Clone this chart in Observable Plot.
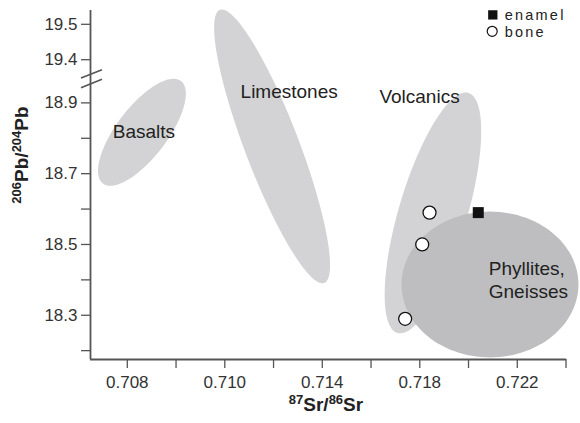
<!DOCTYPE html>
<html><head><meta charset="utf-8">
<script src="https://cdn.jsdelivr.net/npm/d3@7"></script>
<script src="https://cdn.jsdelivr.net/npm/@observablehq/plot@0.6"></script>
<style>body{margin:0;background:#fff}</style>
</head><body><div id="chart"></div>
<script>
// Source regions (ellipses): centre, end of major semi-axis, end of minor semi-axis (data units)
const regionNames  = ["Basalts", "Limestones", "Volcanics", "Phyllites,\nGneisses"];
const regionCx     = [0.70660, 0.71194, 0.71854, 0.72088];
const regionCy     = [18.817, 18.777, 18.589, 18.387];
const regionMajorX = [0.70820, 0.70980, 0.72000, 0.72451];
const regionMajorY = [18.962, 19.163, 18.928, 18.387];
const regionMinorX = [0.70743, 0.71298, 0.71988, 0.72088];
const regionMinorY = [18.774, 18.804, 18.561, 18.593];
const labelX       = [0.70668, 0.71264, 0.71799, 0.72083];
const labelY       = [18.819, 18.930, 18.916, 18.401];

// Samples
const boneX   = [0.7184, 0.7181, 0.7174];
const boneY   = [18.59, 18.50, 18.29];
const enamelX = [0.7204];
const enamelY = [18.59];
const legendLabels = ["enamel", "bone"];

// Axes
const yTickValues = [19.5, 19.4, 18.9, 18.7, 18.5, 18.3];
const yTickLabels = ["19.5", "19.4", "18.9", "18.7", "18.5", "18.3"];
const yMinorTicks = [18.8, 18.6, 18.4, 18.2];
const xTickValues = [0.706, 0.710, 0.714, 0.718, 0.722];
const xTickLabels = ["0.708", "0.710", "0.714", "0.718", "0.722"];
const xMinorTicks = [0.708, 0.712, 0.716, 0.720, 0.724];
const xDomain = [0.70449, 0.72402];
const yDomain = [18.175, 19.161];
const yBreakFrom = 19.2, yBreakShift = 0.378, yBreakAt = 18.967;

const brk = v => v >= yBreakFrom ? v - yBreakShift : v;
const yLabelMap = new Map(yTickValues.map((v, i) => [brk(v), yTickLabels[i]]));
const xLabelMap = new Map(xTickValues.map((v, i) => [v, xTickLabels[i]]));

const LIGHT = "#d3d3d5", DARK = "#bebec0", AXIS = "#555", INK = "#222";

function outline(i) {
  const cx = regionCx[i], cy = regionCy[i];
  const ux = regionMajorX[i] - cx, uy = regionMajorY[i] - cy;
  const vx = regionMinorX[i] - cx, vy = regionMinorY[i] - cy;
  const pts = [];
  for (let k = 0; k < 120; k++) {
    const t = 2 * Math.PI * k / 120;
    pts.push({x: cx + ux * Math.cos(t) + vx * Math.sin(t), y: cy + uy * Math.cos(t) + vy * Math.sin(t)});
  }
  return pts;
}

const ellipseMarks = regionNames.map((n, i) =>
  Plot.line(outline(i), {x: "x", y: "y", fill: i === 3 ? DARK : LIGHT, stroke: "none", curve: "linear-closed"}));

const labels = regionNames.map((n, i) => ({name: n, x: labelX[i], y: labelY[i], anchor: i === 3 ? "start" : "middle"}));

const breakMark = (index, scales) => {
  const g = d3.create("svg:g").attr("stroke", AXIS).attr("stroke-width", 1.6);
  const x0 = scales.x(xDomain[0]), y0 = scales.y(yBreakAt);
  for (const off of [-4.8, 4.8]) {
    g.append("line").attr("x1", x0 - 9).attr("y1", y0 + off + 4.2)
      .attr("x2", x0 + 12).attr("y2", y0 + off - 4.2);
  }
  return g.node();
};

const spaced = (index, scales, values, dims, ctx, next) => {
  const g = next(index, scales, values, dims, ctx);
  g.style.letterSpacing = "2.2px";
  return g;
};

const plot = Plot.plot({
  width: 580, height: 423,
  marginLeft: 90, marginRight: 14, marginTop: 10, marginBottom: 64,
  style: {fontFamily: "'Liberation Sans', Arial, sans-serif", color: "#333", background: "#fff"},
  x: {domain: xDomain, label: null},
  y: {domain: yDomain, label: null},
  marks: [
    ...ellipseMarks,
    Plot.ruleX([xDomain[0]], {stroke: AXIS, strokeWidth: 1.8}),
    Plot.ruleY([yDomain[0]], {stroke: AXIS, strokeWidth: 1.8}),
    Plot.axisY(yTickValues.map(brk), {anchor: "left", tickSize: 9, tickPadding: 4, fontSize: 17, stroke: AXIS, strokeWidth: 1.3, tickFormat: t => yLabelMap.get(t), label: null}),
    Plot.axisY(yMinorTicks, {anchor: "left", tickSize: 9, stroke: AXIS, strokeWidth: 1.3, tickFormat: () => "", label: null}),
    Plot.axisX(xTickValues, {anchor: "bottom", tickSize: 9, tickPadding: 7, fontSize: 17, stroke: AXIS, strokeWidth: 1.3, tickFormat: t => xLabelMap.get(t), label: null}),
    Plot.axisX(xMinorTicks, {anchor: "bottom", tickSize: 9, stroke: AXIS, strokeWidth: 1.3, tickFormat: () => "", label: null}),
    breakMark,
    Plot.text(labels.filter(d => d.anchor === "middle"), {x: "x", y: "y", text: "name", fontSize: 19, fill: INK, textAnchor: "middle"}),
    Plot.text(labels.filter(d => d.anchor === "start"), {x: "x", y: "y", text: "name", fontSize: 19, fill: INK, textAnchor: "start", lineHeight: 1.19}),
    Plot.dot(boneX.map((x, i) => ({x, y: brk(boneY[i])})), {x: "x", y: "y", symbol: "circle", r: 6.5, fill: "#fff", stroke: "#111", strokeWidth: 1.3}),
    Plot.dot(enamelX.map((x, i) => ({x, y: brk(enamelY[i])})), {x: "x", y: "y", symbol: "square", r: 6.2, fill: "#111", stroke: "none"}),
    // legend
    Plot.dot([legendLabels[0]], {frameAnchor: "top-right", dx: -73.7, dy: 4.4, symbol: "square", r: 5.25, fill: "#111"}),
    Plot.dot([legendLabels[1]], {frameAnchor: "top-right", dx: -74.3, dy: 20.8, symbol: "circle", r: 5, fill: "#fff", stroke: "#111", strokeWidth: 1.2}),
    Plot.text([legendLabels.join("\n")], {frameAnchor: "top-right", text: d => d, dx: -61.7, dy: -2.4, fontSize: 14.5, lineHeight: 16.8 / 14.5, fill: INK, textAnchor: "start", lineAnchor: "top", render: spaced})
  ]
});

const svg = d3.select(plot);
const xt = svg.append("text").attr("x", 326).attr("y", 411).attr("text-anchor", "middle")
  .attr("font-weight", "bold").attr("fill", INK).attr("font-size", 19);
xt.append("tspan").attr("font-size", 13).attr("dy", -7).text("87");
xt.append("tspan").attr("dy", 7).text("Sr/");
xt.append("tspan").attr("font-size", 13).attr("dy", -7).text("86");
xt.append("tspan").attr("dy", 7).text("Sr");

const yt = svg.append("text").attr("transform", "translate(28,155) rotate(-90)").attr("text-anchor", "middle")
  .attr("font-weight", "bold").attr("fill", INK).attr("font-size", 19);
yt.append("tspan").attr("font-size", 13).attr("dy", -7).text("206");
yt.append("tspan").attr("dy", 7).text("Pb/");
yt.append("tspan").attr("font-size", 13).attr("dy", -7).text("204");
yt.append("tspan").attr("dy", 7).text("Pb");

document.getElementById("chart").append(plot);
</script>
</body></html>
